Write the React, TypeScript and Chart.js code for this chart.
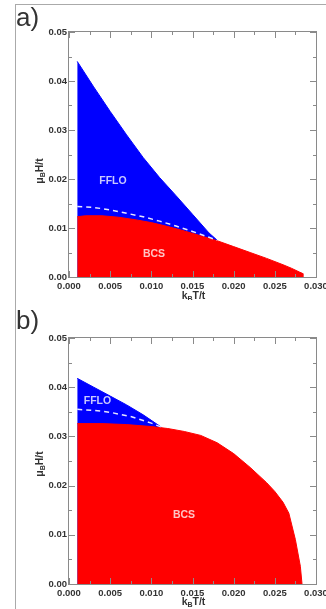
import React, { useEffect, useRef } from "react";
import { Chart, registerables } from "chart.js";
Chart.register(...registerables);

// ---- Panel a data ----
const aFfloT = [0.001, 0.003, 0.005, 0.007, 0.009, 0.011, 0.013, 0.015, 0.017, 0.018];
const aFfloH = [0.044, 0.0388, 0.0338, 0.029, 0.0244, 0.0203, 0.0166, 0.0128, 0.009, 0.0075];
const aBcsT = [0.001, 0.002, 0.004, 0.006, 0.008, 0.01, 0.012, 0.014, 0.016, 0.018, 0.02, 0.022, 0.024, 0.026, 0.027, 0.028, 0.0284, 0.0284];
const aBcsH = [0.0123, 0.0125, 0.0125, 0.0122, 0.0117, 0.0111, 0.0103, 0.0094, 0.0084, 0.0074, 0.0062, 0.005, 0.0038, 0.0025, 0.0018, 0.001, 0.0007, 0];
const aDashT = [0.001, 0.003, 0.005, 0.007, 0.009, 0.011, 0.013, 0.015, 0.017, 0.018];
const aDashH = [0.0144, 0.0142, 0.0137, 0.013, 0.0123, 0.0114, 0.0104, 0.0093, 0.0081, 0.0075];

// ---- Panel b data ----
const bFfloT = [0.001, 0.003, 0.005, 0.007, 0.009, 0.0112];
const bFfloH = [0.0418, 0.04, 0.0382, 0.0364, 0.0344, 0.0319];
const bBcsT = [0.001, 0.004, 0.007, 0.01, 0.012, 0.014, 0.016, 0.018, 0.02, 0.022, 0.024, 0.025, 0.026, 0.0267, 0.0275, 0.0281, 0.0283];
const bBcsH = [0.0326, 0.0326, 0.0324, 0.032, 0.0316, 0.031, 0.0302, 0.0287, 0.0265, 0.0237, 0.0206, 0.0188, 0.0166, 0.0144, 0.009, 0.0036, 0];
const bDashT = [0.001, 0.003, 0.005, 0.0076, 0.01, 0.0112];
const bDashH = [0.0355, 0.0353, 0.0349, 0.034, 0.0327, 0.0319];

// ---- Region labels (text, T, H) ----
const aRegionText = ["FFLO", "BCS"];
const aRegionT = [0.00534, 0.01032];
const aRegionH = [0.0196, 0.0047];
const bRegionText = ["FFLO", "BCS"];
const bRegionT = [0.00346, 0.01397];
const bRegionH = [0.0372, 0.0141];

// ---- Axes ----
const xTickValues = [0, 0.005, 0.01, 0.015, 0.02, 0.025, 0.03];
const xTickLabels = ["0.000", "0.005", "0.010", "0.015", "0.020", "0.025", "0.030"];
const yTickValues = [0, 0.01, 0.02, 0.03, 0.04, 0.05];
const yTickLabels = ["0.00", "0.01", "0.02", "0.03", "0.04", "0.05"];

const FONT = '"Liberation Sans", Arial, Helvetica, sans-serif';
const BLUE = "#0000ff";
const RED = "#ff0000";
const AXIS = "#8a8a8a";
const TEXT = "#333333";

const pts = (xs: number[], ys: number[]) => xs.map((x, i) => ({ x, y: ys[i] }));

type PanelProps = {
  ffloT: number[]; ffloH: number[];
  bcsT: number[]; bcsH: number[];
  dashT: number[]; dashH: number[];
  regionText: string[]; regionT: number[]; regionH: number[];
  height: number; padTop: number; xAxisH: number;
  yTitleY: number; xTitleY: number;
};

function drawSubText(ctx: CanvasRenderingContext2D, parts: [string, boolean][], size: number) {
  const main = `bold ${size}px ${FONT}`;
  const sub = `bold ${Math.round(size * 0.7)}px ${FONT}`;
  let total = 0;
  const widths = parts.map(([t, s]) => {
    ctx.font = s ? sub : main;
    const w = ctx.measureText(t).width;
    total += w;
    return w;
  });
  let x = -total / 2;
  ctx.textBaseline = "middle";
  ctx.textAlign = "left";
  parts.forEach(([t, s], i) => {
    ctx.font = s ? sub : main;
    ctx.fillText(t, x, s ? 3 : 0);
    x += widths[i];
  });
}

function Panel(p: PanelProps) {
  const ref = useRef<HTMLCanvasElement>(null);
  useEffect(() => {
    if (!ref.current) return;
    const decor = {
      id: "decor",
      afterDatasetsDraw(chart: any) {
        const { ctx, chartArea: ca, scales } = chart;
        const xs = scales.x, ys = scales.y;
        ctx.save();
        // region labels
        ctx.font = `bold 10.5px ${FONT}`;
        ctx.textAlign = "center";
        ctx.textBaseline = "middle";
        p.regionText.forEach((t, i) => {
          ctx.fillStyle = t === "BCS" ? "#ffc4c4" : "#c8c8ff";
          ctx.fillText(t, xs.getPixelForValue(p.regionT[i]), ys.getPixelForValue(p.regionH[i]));
        });
        // box
        ctx.strokeStyle = AXIS;
        ctx.lineWidth = 1;
        ctx.strokeRect(Math.round(ca.left) - 0.5, Math.round(ca.top) - 0.5, Math.round(ca.right - ca.left) + 1, Math.round(ca.bottom - ca.top) + 1);
        // ticks inward
        ctx.beginPath();
        for (let i = 0; i < xTickValues.length; i++) {
          const v = xTickValues[i];
          const px = Math.round(xs.getPixelForValue(v)) + 0.5;
          ctx.moveTo(px, ca.bottom); ctx.lineTo(px, ca.bottom - 6);
          ctx.moveTo(px, ca.top); ctx.lineTo(px, ca.top + 6);
          if (i < xTickValues.length - 1) {
            const m = (v + xTickValues[i + 1]) / 2;
            const pm = Math.round(xs.getPixelForValue(m)) + 0.5;
            ctx.moveTo(pm, ca.bottom); ctx.lineTo(pm, ca.bottom - 3);
            ctx.moveTo(pm, ca.top); ctx.lineTo(pm, ca.top + 3);
          }
        }
        for (let i = 0; i < yTickValues.length; i++) {
          const v = yTickValues[i];
          const py = Math.round(ys.getPixelForValue(v)) + 0.5;
          ctx.moveTo(ca.left, py); ctx.lineTo(ca.left + 6, py);
          ctx.moveTo(ca.right, py); ctx.lineTo(ca.right - 6, py);
          if (i < yTickValues.length - 1) {
            const m = (v + yTickValues[i + 1]) / 2;
            const pm = Math.round(ys.getPixelForValue(m)) + 0.5;
            ctx.moveTo(ca.left, pm); ctx.lineTo(ca.left + 3, pm);
            ctx.moveTo(ca.right, pm); ctx.lineTo(ca.right - 3, pm);
          }
        }
        ctx.stroke();
        // axis titles
        ctx.fillStyle = TEXT;
        ctx.save();
        ctx.translate(ca.left - 29, p.yTitleY);
        ctx.rotate(-Math.PI / 2);
        drawSubText(ctx, [["μ", false], ["B", true], ["H/t", false]], 10.5);
        ctx.restore();
        ctx.save();
        ctx.translate((ca.left + ca.right) / 2 + 1, p.xTitleY);
        drawSubText(ctx, [["k", false], ["B", true], ["T/t", false]], 10.5);
        ctx.restore();
        ctx.restore();
      },
    };
    const chart = new Chart(ref.current, {
      type: "line",
      data: {
        datasets: [
          {
            data: pts(p.dashT, p.dashH),
            borderColor: "#e6e6ff",
            borderWidth: 1.5,
            borderDash: [5, 4],
            pointRadius: 0,
            fill: false,
            order: 1,
          },
          {
            data: pts(p.bcsT, p.bcsH),
            borderColor: RED,
            backgroundColor: RED,
            borderWidth: 1,
            pointRadius: 0,
            fill: "origin",
            order: 2,
          },
          {
            data: pts(p.ffloT, p.ffloH),
            borderColor: BLUE,
            backgroundColor: BLUE,
            borderWidth: 1,
            pointRadius: 0,
            fill: "origin",
            order: 3,
          },
        ],
      },
      options: {
        animation: false,
        responsive: false,
        devicePixelRatio: 1,
        layout: { padding: { left: 0, right: 10, top: p.padTop, bottom: 0 } },
        plugins: { legend: { display: false }, tooltip: { enabled: false }, title: { display: false } },
        scales: {
          x: {
            type: "linear",
            min: 0,
            max: 0.03,
            grid: { display: false, drawTicks: false },
            border: { display: false },
            afterBuildTicks: (s: any) => { s.ticks = xTickValues.map((v) => ({ value: v })); },
            afterFit: (s: any) => { s.height = p.xAxisH; s.paddingLeft = 0; s.paddingRight = 0; },
            ticks: {
              padding: 4,
              color: TEXT,
              maxRotation: 0,
              autoSkip: false,
              font: { family: FONT, size: 9.5, weight: "bold" },
              callback: (v: any) => { const i = xTickValues.findIndex((t) => Math.abs(t - Number(v)) < 1e-9); return i >= 0 ? xTickLabels[i] : ""; },
            },
          },
          y: {
            type: "linear",
            min: 0,
            max: 0.05,
            grid: { display: false, drawTicks: false },
            border: { display: false },
            afterBuildTicks: (s: any) => { s.ticks = yTickValues.map((v) => ({ value: v })); },
            afterFit: (s: any) => { s.width = 69; },
            ticks: {
              padding: 2,
              color: TEXT,
              autoSkip: false,
              font: { family: FONT, size: 9.5, weight: "bold" },
              callback: (v: any) => { const i = yTickValues.findIndex((t) => Math.abs(t - Number(v)) < 1e-9); return i >= 0 ? yTickLabels[i] : ""; },
            },
          },
        },
      } as any,
      plugins: [decor],
    });
    return () => chart.destroy();
  }, []);
  return <canvas ref={ref} width={326} height={p.height} style={{ display: "block" }} />;
}

const labelStyle: React.CSSProperties = {
  position: "absolute",
  left: 16,
  fontFamily: FONT,
  fontSize: 26,
  lineHeight: "26px",
  color: "#333",
};

export default function App() {
  return (
    <div style={{ position: "fixed", left: 0, top: 0, width: 326, height: 609, background: "#fff", overflow: "hidden" }}>
      <div style={{ position: "absolute", left: 0, top: 0 }}>
        <Panel ffloT={aFfloT} ffloH={aFfloH} bcsT={aBcsT} bcsH={aBcsH} dashT={aDashT} dashH={aDashH}
          regionText={aRegionText} regionT={aRegionT} regionH={aRegionH}
          height={300} padTop={32} xAxisH={23} yTitleY={171} xTitleY={296} />
      </div>
      <div style={{ position: "absolute", left: 0, top: 300 }}>
        <Panel ffloT={bFfloT} ffloH={bFfloH} bcsT={bBcsT} bcsH={bBcsH} dashT={bDashT} dashH={bDashH}
          regionText={bRegionText} regionT={bRegionT} regionH={bRegionH}
          height={309} padTop={38} xAxisH={25} yTitleY={164} xTitleY={302} />
      </div>
      <div style={{ position: "absolute", left: 15, top: 4, width: 311, height: 605, borderLeft: "1px solid #aaa", borderTop: "1px solid #aaa" }} />
      <div style={{ ...labelStyle, top: 4 }}>a)</div>
      <div style={{ ...labelStyle, top: 307 }}>b)</div>
    </div>
  );
}
